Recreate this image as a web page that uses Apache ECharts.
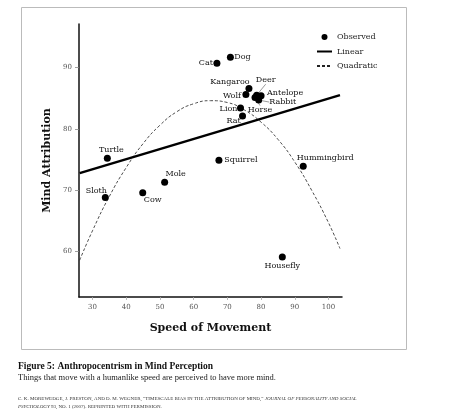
<!DOCTYPE html>
<html>
<head>
<meta charset="utf-8">
<title>Mind Perception</title>
<script src="https://cdn.jsdelivr.net/npm/echarts@6/dist/echarts.min.js"></script>
<style>
  html, body { margin: 0; padding: 0; background: #fff; }
  #chart { width: 458px; height: 420px; }
</style>
</head>
<body>
<div id="chart"></div>
<script>
// observed animals
var animals = ['Cat', 'Dog', 'Kangaroo', 'Deer', 'Antelope', 'Wolf', 'Rabbit', 'Horse', 'Lion', 'Rat',
               'Turtle', 'Squirrel', 'Hummingbird', 'Mole', 'Cow', 'Sloth', 'Housefly'];
var speed = [66.9, 70.9, 76.4, 78.7, 80.0, 75.5, 79.3, 78.2, 73.9, 74.5,
             34.4, 67.5, 92.5, 51.4, 44.9, 33.8, 86.3];
var mind = [90.7, 91.7, 86.6, 85.5, 85.4, 85.6, 84.7, 85.1, 83.4, 82.1,
            75.2, 74.9, 73.9, 71.3, 69.6, 68.8, 59.1];

// fitted lines
var linearX = [26.2, 103.4];
var linearY = [72.8, 85.5];
var quadX = [26.2, 30, 35, 40, 45, 50, 55, 60, 65, 70, 75, 80, 85, 90, 95, 100, 103.4];
var quadY = [58.6, 63.4, 69.0, 73.7, 77.6, 80.6, 82.8, 84.1, 84.6, 84.3, 83.1, 81.1, 78.3, 74.6, 70.0, 64.7, 60.5];

var xTicks = [30, 40, 50, 60, 70, 80, 90, 100];
var yTicks = [60, 70, 80, 90];

// where each label sits relative to its dot (px)
var labelShift = {
    Cat: [-11, 0], Dog: [12, 0], Kangaroo: [-19, -6], Deer: [9, -15], Antelope: [24, -3],
    Wolf: [-14, 1], Rabbit: [24, 2], Horse: [5, 12], Lion: [-12, 1], Rat: [-9, 5],
    Turtle: [4, -8], Squirrel: [22, 0], Hummingbird: [22, -8], Mole: [11, -8], Cow: [10, 7],
    Sloth: [-9, -7], Housefly: [0, 9]
};
var withLeader = ['Deer', 'Rabbit', 'Horse'];

var serif = 'DejaVu Serif';

function pairs(xs, ys) {
    return xs.map(function (x, i) { return [x, ys[i]]; });
}

var scatterData = animals.map(function (name, i) {
    var item = { name: name, value: [speed[i], mind[i]] };
    if (withLeader.indexOf(name) >= 0) {
        item.labelLine = { show: true, lineStyle: { color: '#555', width: 0.6 } };
    }
    return item;
});

var chart = echarts.init(document.getElementById('chart'), null, { renderer: 'canvas' });

chart.setOption({
    backgroundColor: '#fff',
    animation: false,
    grid: { left: 79, top: 24, right: 116, bottom: 123 },
    legend: {
        orient: 'vertical',
        left: 316,
        top: 33,
        padding: 0,
        itemWidth: 15,
        itemHeight: 6,
        itemGap: 6.5,
        textStyle: { fontFamily: serif, fontSize: 8, color: '#222' },
        data: [
            { name: 'Observed' },
            { name: 'Linear', itemStyle: { opacity: 0 } },
            { name: 'Quadratic', itemStyle: { opacity: 0 } }
        ]
    },
    xAxis: {
        type: 'value',
        min: 26,
        max: 104,
        name: 'Speed of Movement',
        nameLocation: 'middle',
        nameGap: 26,
        nameTextStyle: { fontFamily: serif, fontSize: 11, fontWeight: 'bold', color: '#111' },
        axisLine: { lineStyle: { color: '#111', width: 1.5 } },
        axisTick: { show: true, length: 3, customValues: xTicks, lineStyle: { color: '#aaa', width: 0.8 } },
        axisLabel: { customValues: xTicks, margin: 7, fontFamily: serif, fontSize: 7, color: '#555' },
        splitLine: { show: false }
    },
    yAxis: {
        type: 'value',
        min: 52.6,
        max: 97.1,
        name: 'Mind Attribution',
        nameLocation: 'middle',
        nameGap: 24,
        nameRotate: 90,
        nameTextStyle: { fontFamily: serif, fontSize: 11, fontWeight: 'bold', color: '#111' },
        axisLine: { lineStyle: { color: '#111', width: 1.5 } },
        axisTick: { show: true, length: 4, customValues: yTicks, lineStyle: { color: '#888', width: 0.8 } },
        axisLabel: { customValues: yTicks, margin: 7, fontFamily: serif, fontSize: 7, color: '#555' },
        splitLine: { show: false }
    },
    series: [
        {
            name: 'Quadratic',
            type: 'line',
            data: pairs(quadX, quadY),
            smooth: true,
            symbol: 'none',
            lineStyle: { color: '#222', width: 0.8, type: [3, 2] },
            itemStyle: { color: '#222' },
            z: 1
        },
        {
            name: 'Linear',
            type: 'line',
            data: pairs(linearX, linearY),
            symbol: 'none',
            lineStyle: { color: '#000', width: 2.5 },
            itemStyle: { color: '#000' },
            z: 2
        },
        {
            name: 'Observed',
            type: 'scatter',
            data: scatterData,
            symbol: 'circle',
            symbolSize: 7,
            itemStyle: { color: '#000', opacity: 1 },
            label: {
                show: true,
                position: 'inside',
                formatter: '{b}',
                fontFamily: serif,
                fontSize: 8,
                color: '#111'
            },
            labelLayout: function (p) {
                var s = labelShift[animals[p.dataIndex]];
                return { dx: s[0], dy: s[1] };
            },
            z: 3
        }
    ],
    graphic: [
        {
            type: 'rect',
            shape: { x: 21.5, y: 7.5, width: 385, height: 342 },
            style: { fill: 'none', stroke: '#bbb', lineWidth: 1 },
            silent: true
        },
        {
            type: 'text',
            left: 18,
            top: 362,
            style: {
                text: 'Figure 5: Anthropocentrism in Mind Perception',
                fontFamily: 'Liberation Serif',
                fontWeight: 'bold',
                fontSize: 9.5,
                fill: '#111'
            }
        },
        {
            type: 'text',
            left: 18,
            top: 373,
            style: {
                text: 'Things that move with a humanlike speed are perceived to have more mind.',
                fontFamily: 'Liberation Serif',
                fontSize: 8.5,
                fill: '#222'
            }
        },
        {
            type: 'text',
            left: 18,
            top: 395,
            style: {
                text: 'C. K. MOREWEDGE, J. PRESTON, AND D. M. WEGNER, \u201cTIMESCALE BIAS IN THE ATTRIBUTION OF MIND,\u201d {i|JOURNAL OF PERSONALITY AND SOCIAL}\n{i|PSYCHOLOGY} 93, NO. 1 (2007). REPRINTED WITH PERMISSION.',
                fontFamily: 'Liberation Serif',
                fontSize: 5,
                lineHeight: 8,
                fill: '#333',
                rich: {
                    i: { fontFamily: 'Liberation Serif', fontStyle: 'italic', fontSize: 5, lineHeight: 8, fill: '#333' }
                }
            }
        }
    ]
});
</script>
</body>
</html>
